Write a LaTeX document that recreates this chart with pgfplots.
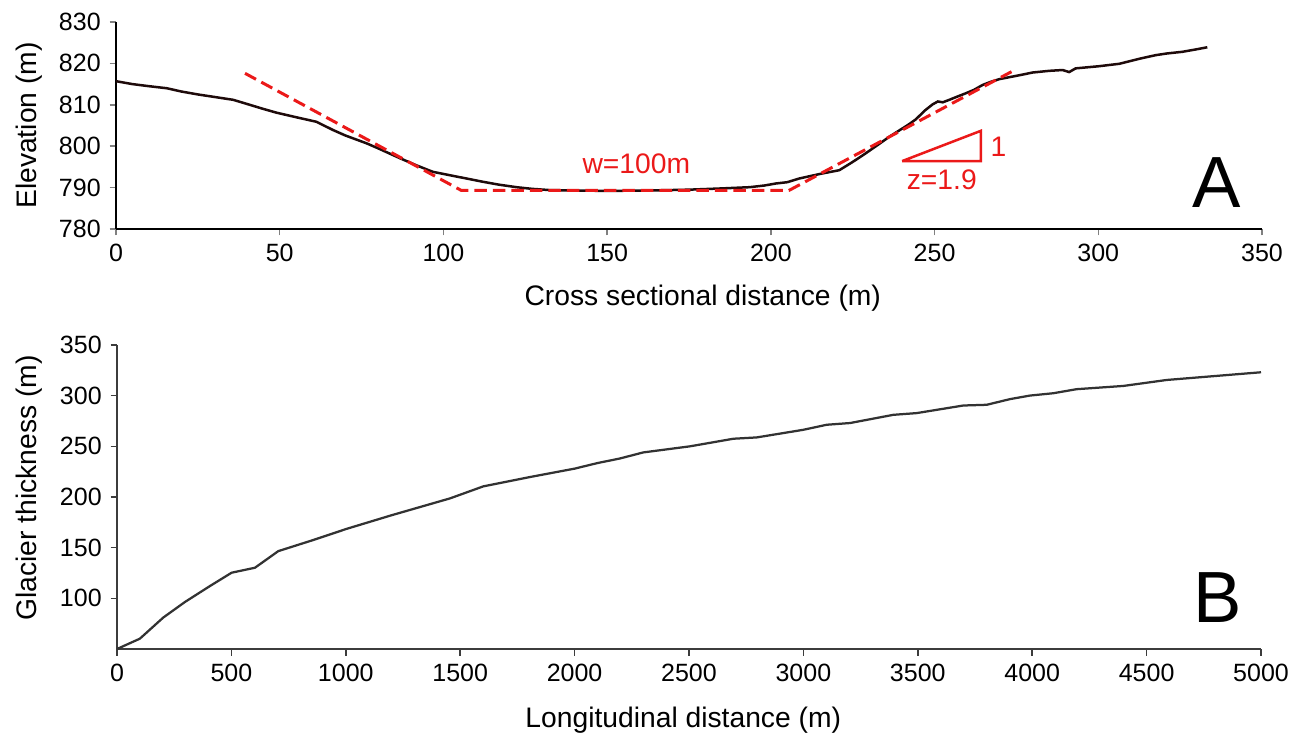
\documentclass[border=0pt]{standalone}
\usepackage{pgfplots}
\pgfplotsset{compat=1.18}
\usepackage{fontspec}
\setmainfont{Liberation Sans}
\definecolor{redline}{RGB}{235,25,25}
\definecolor{topcurve}{RGB}{30,10,10}
\definecolor{botaxis}{RGB}{60,60,60}
\definecolor{botcurve}{RGB}{50,50,50}
\begin{document}
\begin{tikzpicture}
\path[use as bounding box] (0,0) rectangle (521.2pt,294.4pt);
\pgfplotsset{
  myaxis/.style={
    scale only axis,
    anchor=south west,
    axis lines*=left,
    tick align=outside,
    tick style={line width=0.6pt},
    axis line style={line width=0.6pt},
    major tick length=2.6pt,
    every tick label/.append style={font=\fontsize{10}{12}\selectfont},
    label style={font=\fontsize{11.3}{13}\selectfont},
    /pgf/number format/assume math mode=true,
    /pgf/number format/set thousands separator={},
    scaled x ticks=false,
    scaled y ticks=false,
    clip=false,
  }
}
\begin{axis}[myaxis,
  at={(46.4pt,202.8pt)},
  width=458.4pt, height=82.8pt,
  xmin=0, xmax=350, ymin=780, ymax=830,
  xtick={0,50,...,350}, ytick={780,790,...,830},
  xlabel={Cross sectional distance (m)},
  ylabel={Elevation (m)},
  xlabel style={at={(axis description cs:0.512,-0.333)}, anchor=center},
  ylabel style={at={(axis description cs:-0.0759,0.5)}, anchor=center},
]
\addplot[color=topcurve, line width=1pt] coordinates {
(0,815.7) (5,815.0) (10,814.5) (15.5,814.0) (20,813.2) (25,812.5) (30,811.9)
(35.8,811.2) (40,810.2) (45,809.0) (49,808.1) (55,807.0) (61.2,805.9) (66.3,803.9)
(70,802.6) (76.5,800.7) (80,799.5) (86.7,797.1) (92,795.3) (96.8,793.8) (101.9,793.0)
(107,792.2) (112.1,791.4) (117,790.7) (122.3,790.1) (127,789.7) (132.4,789.4)
(140,789.3) (150,789.2) (163,789.3) (175,789.5) (185,789.8) (193.5,790.1) (198,790.5)
(201.6,791.0) (205,791.3) (208.7,792.2) (215,793.3) (220.9,794.2) (225,796.2)
(229,798.3) (233,800.5) (236.2,802.3) (239.2,803.8) (242,805.2) (244.3,806.5)
(247,808.6) (249.4,810.1) (251,810.8) (252.5,810.6) (254.5,811.2) (257,812.0)
(259.6,812.8) (262,813.6) (264.7,814.8) (267,815.5) (269.8,816.2) (275,817.0)
(280,817.8) (285,818.2) (289.1,818.4) (291.1,817.9) (293.1,818.8) (300,819.3)
(306.4,819.9) (308.4,820.3) (313,821.2) (317.6,822.0) (321,822.4) (325.7,822.8)
(330,823.4) (333.3,823.9)
};
\addplot[color=redline, line width=1.2pt, dash pattern=on 5pt off 2.4pt] coordinates {
(39.4,817.6) (105.5,789.3) (205.5,789.3) (273.5,818.0)
};
\addplot[color=redline, line width=1pt] coordinates {
(240.1,796.4) (264.1,803.7) (264.1,796.4) (240.1,796.4)
};
\node[text=redline, font=\fontsize{11.3}{13}\selectfont, anchor=center] at (axis cs:158.9,795.7) {w=100m};
\node[text=redline, font=\fontsize{11.3}{13}\selectfont, anchor=center] at (axis cs:269.5,799.9) {1};
\node[text=redline, font=\fontsize{11.3}{13}\selectfont, anchor=center] at (axis cs:252.2,791.8) {z=1.9};
\node[font=\fontsize{29}{32}\selectfont, anchor=center, inner sep=0pt] at (axis cs:336.1,791.2) {A};
\end{axis}
\begin{axis}[myaxis,
  at={(46.8pt,34.8pt)},
  width=457.6pt, height=121.6pt,
  xmin=0, xmax=5000, ymin=50, ymax=350,
  xtick={0,500,...,5000}, ytick={100,150,...,350},
  axis line style={line width=0.6pt, color=botaxis},
  tick style={line width=0.6pt, color=botaxis},
  xlabel={Longitudinal distance (m)},
  ylabel={Glacier thickness (m)},
  xlabel style={at={(axis description cs:0.495,-0.234)}, anchor=center},
  ylabel style={at={(axis description cs:-0.0769,0.53)}, anchor=center},
]
\addplot[color=botcurve, line width=0.9pt] coordinates {
(0,50) (100,60.2) (202,81) (297,96.4) (406,112.1) (501,125.3) (603,130.2)
(705,146.6) (850,157) (1004,168.6) (1200,182) (1455,198.6) (1601,210.5) (1800,219.5)
(2000,228) (2100,233.5) (2198,238) (2300,244) (2504,250) (2694,257.5) (2796,258.8)
(2999,266.3) (3102,271.3) (3204,273) (3393,281.1) (3495,282.8) (3699,290.3)
(3801,291) (3903,296.6) (3990,300.1) (4092,302.4) (4194,306.4) (4398,309.6)
(4588,315.5) (5000,323.1)
};
\node[font=\fontsize{29}{32}\selectfont, anchor=center, inner sep=0pt] at (axis cs:4812,101) {B};
\end{axis}
\end{tikzpicture}
\end{document}
